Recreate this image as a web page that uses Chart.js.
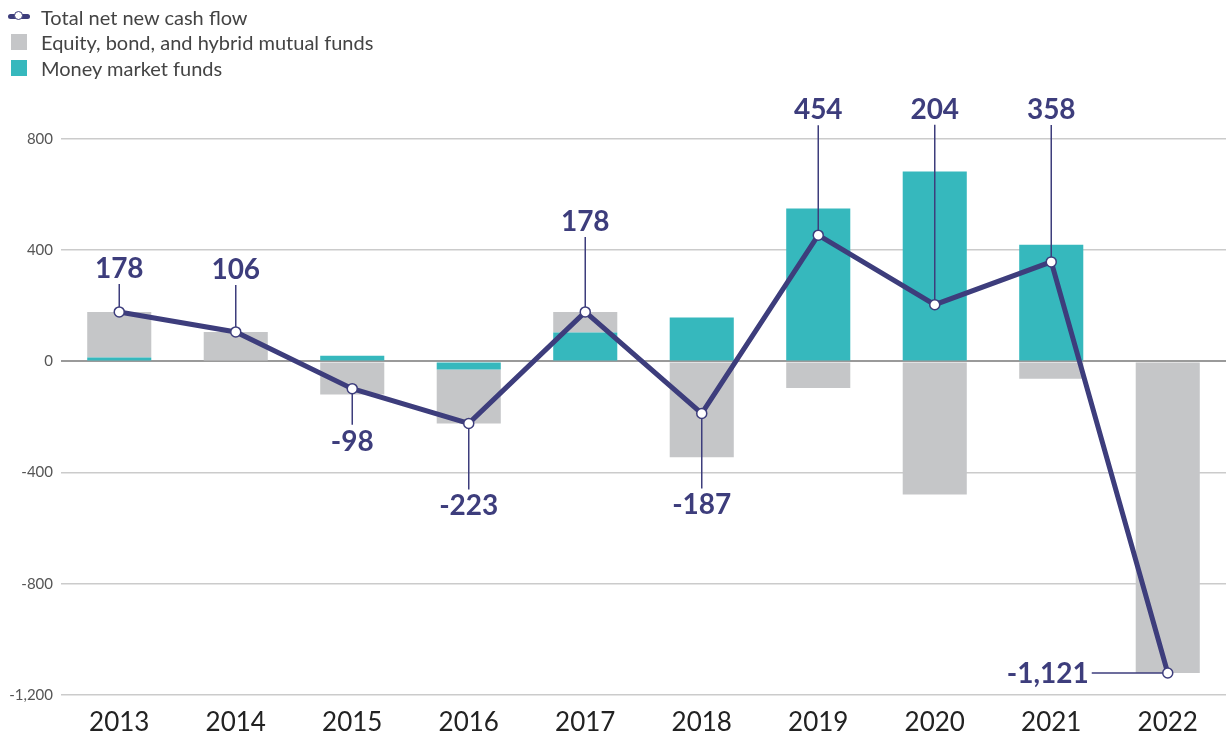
<!DOCTYPE html>
<html lang="en">
<head>
    <meta charset="UTF-8">
    <title>Net new cash flow</title>
    <script src="https://cdn.jsdelivr.net/npm/chart.js"></script>
    <style>
        body {
            margin: 0;
            padding: 0;
            background: #ffffff;
            font-family: Lato, "Open Sans", Arial, sans-serif;
        }
        .wrap {
            position: relative;
            width: 1226px;
            height: 736px;
        }
        .legend {
            position: absolute;
            left: 8px;
            top: 4px;
            font-size: 20px;
            color: #444;
        }
        .legend .item {
            display: flex;
            align-items: center;
            height: 25.5px;
        }
        .legend .swatch {
            width: 16px;
            height: 16px;
            margin: 0 14px 0 3px;
        }
        .legend .lineIcon {
            position: relative;
            width: 22px;
            height: 16px;
            margin-right: 11px;
        }
        .legend .lineIcon .bar {
            position: absolute;
            left: 0; right: 0; top: 5px;
            height: 5px;
            border-radius: 3px;
        }
        .legend .lineIcon .dot {
            position: absolute;
            left: 6px; top: 2.5px;
            width: 7px; height: 7px;
            border-radius: 50%;
            background: #fff;
            border: 1.5px solid;
        }
    </style>
</head>
<body>
<div class="wrap">
    <canvas id="flowChart"></canvas>
    <div class="legend" id="legend"></div>
</div>
<script>
    // values in billions of dollars
    const years = ['2013', '2014', '2015', '2016', '2017', '2018', '2019', '2020', '2021', '2022'];
    const totalFlow = [178, 106, -98, -223, 178, -187, 454, 204, 358, -1121];
    const moneyMarket = [14, 0, 20, -29, 104, 158, 550, 683, 420, 0];
    const longTermFunds = [164, 106, -119, -194, 74, -345, -96, -479, -62, -1121];
    const yTicks = [-1200, -800, -400, 0, 400, 800];

    const NAVY = '#3d3d7c';
    const TEAL = '#36b8bd';
    const GREY = '#c5c6c8';

    // where each value label sits relative to its point: [dx, dy] to the end of the leader line
    const labelOffsets = [[0, -28], [0, -47], [0, 36], [0, 66], [0, -75], [0, 75], [0, -110], [0, -180], [0, -137], [-76, 0]];

    const valueLabels = {
        id: 'valueLabels',
        afterDatasetsDraw(chart) {
            const meta = chart.getDatasetMeta(0);
            const ctx = chart.ctx;
            ctx.save();
            ctx.strokeStyle = NAVY;
            ctx.fillStyle = NAVY;
            ctx.lineWidth = 1.5;
            ctx.font = 'bold 28px Lato, "Open Sans", sans-serif';
            meta.data.forEach((pt, i) => {
                const [dx, dy] = labelOffsets[i];
                const r = 5;
                const txt = totalFlow[i].toLocaleString('en-US');
                ctx.beginPath();
                if (dx === 0) {
                    const dir = Math.sign(dy);
                    ctx.moveTo(pt.x, pt.y + dir * r);
                    ctx.lineTo(pt.x, pt.y + dy);
                    ctx.stroke();
                    ctx.textAlign = 'center';
                    ctx.textBaseline = 'alphabetic';
                    ctx.fillText(txt, pt.x, dir < 0 ? pt.y + dy - 6 : pt.y + dy + 26);
                } else {
                    ctx.moveTo(pt.x - r, pt.y);
                    ctx.lineTo(pt.x + dx, pt.y);
                    ctx.stroke();
                    ctx.textAlign = 'right';
                    ctx.textBaseline = 'alphabetic';
                    ctx.fillText(txt, pt.x + dx - 3, pt.y + 10);
                }
            });
            ctx.restore();
        }
    };

    const chart = new Chart(document.getElementById('flowChart'), {
        data: {
            labels: years,
            datasets: [{
                type: 'line',
                label: 'Total net new cash flow',
                data: totalFlow,
                stack: 'total',
                order: 0,
                borderColor: NAVY,
                borderWidth: 5,
                tension: 0,
                pointRadius: 5,
                pointBackgroundColor: '#ffffff',
                pointBorderColor: NAVY,
                pointBorderWidth: 1.5
            }, {
                type: 'bar',
                label: 'Money market funds',
                data: moneyMarket,
                stack: 'funds',
                order: 1,
                backgroundColor: TEAL,
                barPercentage: 0.55,
                categoryPercentage: 1
            }, {
                type: 'bar',
                label: 'Equity, bond, and hybrid mutual funds',
                data: longTermFunds,
                stack: 'funds',
                order: 1,
                backgroundColor: GREY,
                barPercentage: 0.55,
                categoryPercentage: 1
            }]
        },
        options: {
            responsive: true,
            maintainAspectRatio: false,
            animation: false,
            layout: { autoPadding: false, padding: { top: 139, right: 0, bottom: 0, left: 0 } },
            plugins: {
                legend: { display: false },
                tooltip: { enabled: false }
            },
            scales: {
                x: {
                    stacked: true,
                    afterFit(scale) { scale.height = 41; },
                    grid: { display: false },
                    border: { display: false },
                    ticks: {
                        color: '#222',
                        padding: 4,
                        font: { family: 'Lato', size: 26 }
                    }
                },
                y: {
                    stacked: true,
                    min: -1200,
                    max: 800,
                    afterFit(scale) { scale.width = 61; },
                    afterBuildTicks(scale) { scale.ticks = yTicks.map(v => ({ value: v })); },
                    border: { display: false },
                    grid: {
                        drawTicks: false,
                        color: ctx => ctx.tick && ctx.tick.value === 0 ? '#9a9a9a' : '#cbcbcb',
                        lineWidth: ctx => ctx.tick && ctx.tick.value === 0 ? 2 : 1.5
                    },
                    ticks: {
                        color: '#555',
                        padding: 8,
                        font: { family: 'Lato', size: 15 },
                        callback: v => v.toLocaleString('en-US')
                    }
                }
            }
        },
        plugins: [valueLabels]
    });

    // legend in the reference order: line, long-term funds, money market
    const legendOrder = [0, 2, 1];
    const legendBox = document.getElementById('legend');
    legendOrder.forEach(idx => {
        const ds = chart.data.datasets[idx];
        const item = document.createElement('div');
        item.className = 'item';
        if (ds.type === 'line') {
            item.innerHTML = '<span class="lineIcon"><span class="bar" style="background:' + NAVY + '"></span>' +
                '<span class="dot" style="border-color:' + NAVY + '"></span></span>';
        } else {
            item.innerHTML = '<span class="swatch" style="background:' + ds.backgroundColor + '"></span>';
        }
        const label = document.createElement('span');
        label.textContent = ds.label;
        item.appendChild(label);
        legendBox.appendChild(item);
    });
</script>
</body>
</html>
